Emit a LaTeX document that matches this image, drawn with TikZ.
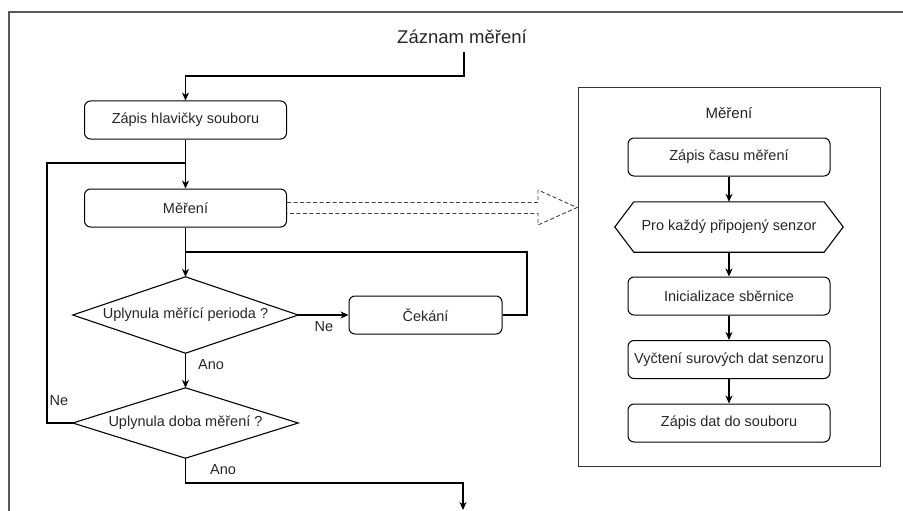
\documentclass[tikz,border=0pt]{standalone}
\usepackage{fontspec}
\setmainfont{Liberation Sans}
\usetikzlibrary{arrows.meta}
\begin{document}
\begin{tikzpicture}[x=1pt,y=-1pt,
  txt/.style={font=\fontsize{14.5}{16}\selectfont, text=black!85},
  box/.style={draw, rounded corners=6pt, line width=1pt, minimum width=202pt, minimum height=38pt, inner sep=0pt, txt},
  dec/.style={minimum width=225pt, inner sep=0pt, txt},
  lbl/.style={inner sep=0pt, txt},
  ln/.style={line width=1.1pt},
  arr/.style={ln, -{Stealth[length=8pt,width=7pt,inset=2.5pt]}}
]
\useasboundingbox (0,0) rectangle (903,511);
% outer frame
\draw[line width=1.5pt, black!65] (903,12) -- (9,12) -- (9,511);

% title
\node[inner sep=0pt, font=\fontsize{18.5}{20}\selectfont, text=black!85] (title) at (462,37) {Záznam měření};
\coordinate (t0) at (464,52);
\coordinate (t1) at (464,76);

% left flow
\node[box] (zh) at (185.5,120) {Zápis hlavičky souboru};
\node[box] (mer) at (185.5,208) {Měření};
\node[dec, minimum height=76pt] (d1) at (185.5,315) {Uplynula měřící perioda ?};
\draw[ln] (d1.west) -- (d1.north) -- (d1.east) -- (d1.south) -- cycle;
\node[box, minimum width=153pt] (cek) at (425.5,315) {Čekání};
\node[dec, minimum height=70pt] (d2) at (185.5,423) {Uplynula doba měření ?};
\draw[ln] (d2.west) -- (d2.north) -- (d2.east) -- (d2.south) -- cycle;

\coordinate (lp) at (47,163);
\coordinate (j0) at (185.5,163);
\coordinate (j1) at (185.5,252);
\coordinate (rr) at (527,252);
\coordinate (b1) at (463,483);
\coordinate (bend) at (463,510);

\draw[arr] (t0) -- (t1) -| (zh.north);
\draw[arr] (zh.south) -- (mer.north);
\draw[arr] (mer.south) -- (d1.north);
\draw[arr] (d1.east) -- (cek.west);
\draw[ln] (cek.east) -| (rr) -- (j1);
\draw[arr] (d1.south) -- (d2.north);
\draw[ln] (d2.west) -| (lp) -- (j0);
\draw[arr] (d2.south) |- (b1) -- (bend);

\node[lbl] (ne1) at (324,327) {Ne};
\node[lbl] (ano1) at (211,365) {Ano};
\node[lbl] (ne2) at (59,401) {Ne};
\node[lbl] (ano2) at (223,470) {Ano};

% dashed block arrow
\draw[line width=0.9pt, dash pattern=on 4pt off 2.5pt, black!75]
  ([yshift=5.5pt]mer.east) -- (538,202.5) -- (538,190) -- (577,207.5) -- (538,225) -- (538,213.5) -- ([yshift=-5.5pt]mer.east);

% right panel
\node[draw, line width=1pt, black!80, minimum width=302pt, minimum height=378pt, inner sep=0pt] (panel) at (729,277) {};
\node[lbl, font=\fontsize{15}{17}\selectfont] (ptitle) at (729,113) {Měření};
\node[box] (zc) at (729,157) {Zápis času měření};
\node[minimum width=228pt, minimum height=50pt, inner sep=0pt, txt] (hex) at (729,227) {Pro každý připojený senzor};
\draw[ln] (hex.west) -- ([xshift=19pt]hex.north west) -- ([xshift=-19pt]hex.north east) -- (hex.east) -- ([xshift=-19pt]hex.south east) -- ([xshift=19pt]hex.south west) -- cycle;
\node[box] (ini) at (729,296) {Inicializace sběrnice};
\node[box] (vyc) at (729,359.5) {Vyčtení surových dat senzoru};
\node[box] (zd) at (729,423) {Zápis dat do souboru};

\draw[arr] (zc.south) -- (hex.north);
\draw[arr] (hex.south) -- (ini.north);
\draw[arr] (ini.south) -- (vyc.north);
\draw[arr] (vyc.south) -- (zd.north);
\end{tikzpicture}
\end{document}
